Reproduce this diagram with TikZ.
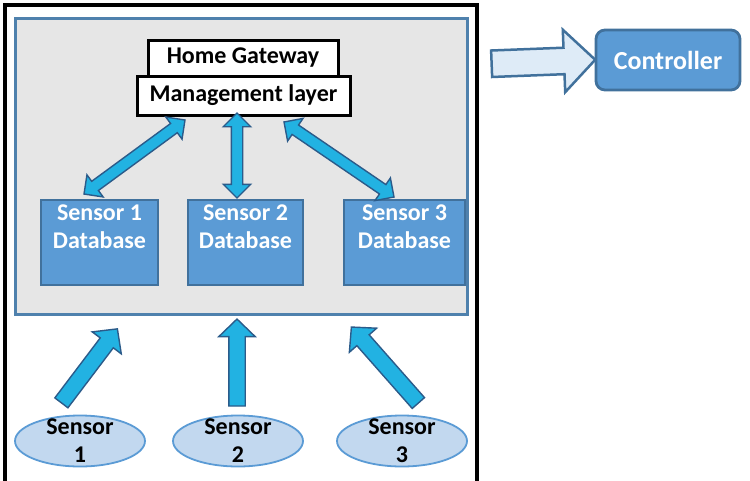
\documentclass[tikz,border=0pt]{standalone}
\usepackage{fontspec}
\setmainfont{Carlito}
\usetikzlibrary{shapes.geometric,shapes.arrows,calc}
\definecolor{dbfill}{HTML}{5B9BD5}
\definecolor{dbdraw}{HTML}{41719C}
\definecolor{arrfill}{HTML}{22B2E2}
\definecolor{arrdraw}{HTML}{2B5B8A}
\definecolor{grayfill}{HTML}{E6E6E6}
\definecolor{graydraw}{HTML}{4F81AD}
\definecolor{ellfill}{HTML}{C2D8EF}
\definecolor{elldraw}{HTML}{5B9BD5}
\definecolor{bigfill}{HTML}{DEEBF7}
\newcommand\blockarrow[3]{%
  \path let \p1=($(#3)-(#2)$), \n1={atan2(\y1,\x1)}, \n2={veclen(\x1,\y1)} in
    node[#1, rotate=\n1, minimum height=\n2] at ($(#2)!0.5!(#3)$) {};}
\tikzset{
  lbl/.style={font=\fontsize{24}{28}\selectfont\bfseries},
  gwbox/.style={draw=black, line width=3pt, fill=white, inner sep=0pt, lbl},
  dbbox/.style={draw=dbdraw, line width=2.8pt, fill=dbfill, inner sep=0pt, minimum height=85pt},
  dblabel/.style={anchor=north, align=center, text=white, inner sep=6pt, lbl},
  sensell/.style={ellipse, draw=elldraw, line width=1.8pt, fill=ellfill, minimum width=130pt, minimum height=51pt, inner sep=0pt},
  elllabel/.style={align=center, text=black, inner sep=0pt, lbl},
  dblarr/.style={double arrow, draw=arrdraw, fill=arrfill, line width=1.4pt, inner sep=5pt,
    double arrow head extend=8pt, double arrow tip angle=90},
  sglarr/.style={single arrow, draw=arrdraw, fill=arrfill, line width=1.4pt, inner sep=7.5pt,
    single arrow head extend=10pt, single arrow tip angle=92},
  bigarr/.style={single arrow, draw=dbdraw, fill=bigfill, line width=2.5pt, inner sep=12pt,
    single arrow head extend=18pt, single arrow tip angle=90},
  ctlbox/.style={draw=dbdraw, line width=2.8pt, fill=dbfill, rounded corners=9pt, text=white,
    minimum width=144pt, minimum height=60pt, inner sep=0pt, font=\fontsize{26}{30}\selectfont\bfseries}
}
\begin{document}
\begin{tikzpicture}[x=1pt,y=-1pt]
\useasboundingbox (0,0) rectangle (750,480);
% outer frame
\draw[line width=3.2pt, black] (5,481) |- (477,5) -- (477,481);
% gray area
\node[draw=graydraw, line width=3pt, fill=grayfill, minimum width=452pt, minimum height=296pt, inner sep=0pt] (area) at (241,166) {};
% gateway
\node[gwbox, minimum width=190pt, minimum height=36pt] (hg) at (243,58) {Home Gateway};
\node[gwbox, minimum width=213pt, minimum height=39pt] (ml) at (243.5,95.5) {Management layer};
% databases
\node[dbbox, minimum width=117pt, label={[dblabel]north:Sensor 1\\Database}] (db1) at (99.5,242.5) {};
\node[dbbox, minimum width=115pt, label={[dblabel]north:Sensor 2\\Database}] (db2) at (245.5,242.5) {};
\node[dbbox, minimum width=121pt, label={[dblabel]north:Sensor 3\\Database}] (db3) at (404.5,242.5) {};
% sensors
\node[sensell, label={[elllabel]center:Sensor\\1}] (s1) at (80,441) {};
\node[sensell, label={[elllabel]center:Sensor\\2}] (s2) at (238,441) {};
\node[sensell, label={[elllabel]center:Sensor\\3}] (s3) at (402,441) {};
% controller
\node[ctlbox] (ctl) at (668,60) {Controller};
% arrow end points
\coordinate (m1) at (185,120); \coordinate (d1) at (84,194);
\coordinate (m2) at (237,113); \coordinate (d2) at (237,198);
\coordinate (m3) at (284,122); \coordinate (d3) at (394,197);
\coordinate (t1) at (59,406);  \coordinate (h1) at (115,332);
\coordinate (t2) at (237,410); \coordinate (h2) at (237,323);
\coordinate (t3) at (421,406); \coordinate (h3) at (354,330);
\coordinate (gt) at (485,64);
\coordinate (gh) at ($(ctl.west)+(-6,0)$);
% arrows
\blockarrow{dblarr}{m1}{d1}
\blockarrow{dblarr}{m2}{d2}
\blockarrow{dblarr}{m3}{d3}
\blockarrow{sglarr}{t1}{h1}
\blockarrow{sglarr}{t2}{h2}
\blockarrow{sglarr}{t3}{h3}
\blockarrow{bigarr}{gt}{gh}
\end{tikzpicture}
\end{document}
